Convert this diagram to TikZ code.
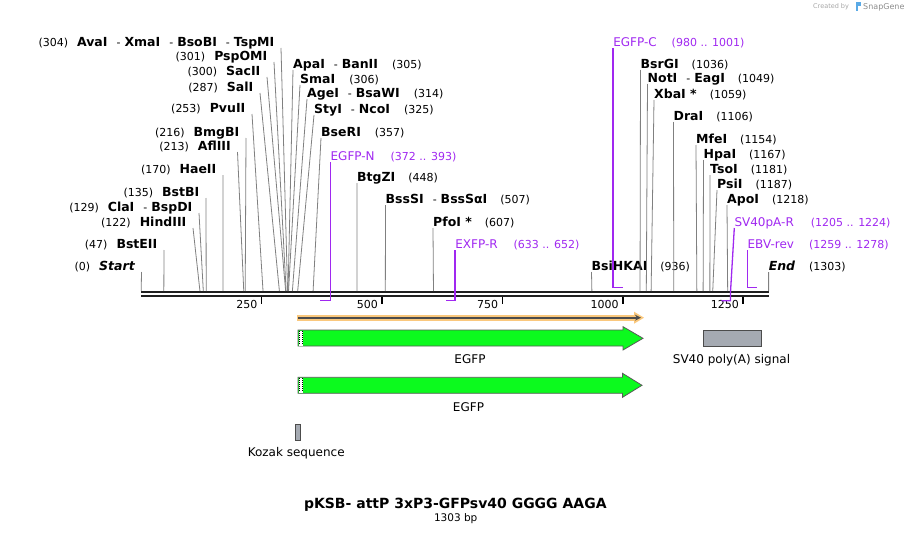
\documentclass[tikz,border=0pt]{standalone}
\usepackage{fontspec}
\setmainfont{DejaVu Sans}
\usetikzlibrary{arrows.meta}
\definecolor{primerpurple}{RGB}{160,40,240}
\definecolor{egfpgreen}{RGB}{12,250,30}
\definecolor{polyagray}{RGB}{165,170,178}
\definecolor{bandorange}{RGB}{250,200,125}
\definecolor{logoblue}{RGB}{90,170,230}
\newcommand{\bp}[1]{141.2+0.4815*#1}
\newcommand{\ename}[1]{{\fontsize{12.5}{14}\selectfont\bfseries #1}}
\newcommand{\epos}[1]{{\fontsize{11}{13}\selectfont(#1)}}
\newcommand{\esep}{\hspace{9pt}-\hspace{4pt}}
\newcommand{\ppos}[1]{{\fontsize{11}{13}\selectfont(#1)}}

\begin{document}
\begin{tikzpicture}[x=1pt,y=-1pt,
    every node/.style={inner sep=0pt},
    enzL/.style={anchor=south east, inner xsep=6.5pt, text depth=1.5pt, font=\fontsize{11}{13}\selectfont},
    enzR/.style={anchor=south west, text depth=1.5pt, font=\fontsize{11}{13}\selectfont},
    site/.style={draw=gray, line width=0.8pt},
    primer/.style={draw=primerpurple, line width=1.3pt},
    plabel/.style={anchor=south west, text depth=1.5pt, text=primerpurple, font=\fontsize{12}{14}\selectfont},
    flabel/.style={font=\fontsize{12}{14}\selectfont}]
    \useasboundingbox (0,0) rectangle (911,535);

    % sites on the map
    \foreach \s in {0,47,122,129,135,170,213,216,253,287,300,301,304,305,306,314,325,357,448,507,607,936,1036,1049,1059,1106,1154,1167,1181,1187,1218,1303}
        \coordinate (s\s) at ({\bp{\s}},291);

    % sequence line and ruler
    \draw[line width=2pt, black!88] (141.2,292.3) -- (768.6,292.3);
    \draw[line width=2pt, black!88] (141.2,295.7) -- (768.6,295.7);
    \foreach \t in {250,500,750,1000,1250} {
        \draw[line width=1.6pt] ({\bp{\t}},297) -- ({\bp{\t}},304);
        \node[anchor=east, font=\fontsize{11}{13}\selectfont] (tick\t) at ({\bp{\t}-4},304) {\t};
    }

    % enzymes, labels on the left
    \node[enzL] (start) at (141.5,272) {(0)\hspace{9pt}\ename{\itshape Start}};
    \node[enzL] (bsteii) at (164,250) {\epos{47}\hspace{9pt}\ename{BstEII}};
    \node[enzL] (hindiii) at (193,228) {\epos{122}\hspace{9pt}\ename{HindIII}};
    \node[enzL] (clai) at (199,213) {\epos{129}\hspace{9pt}\ename{ClaI}\esep\ename{BspDI}};
    \node[enzL] (bstbi) at (206,198) {\epos{135}\hspace{9pt}\ename{BstBI}};
    \node[enzL] (haeii) at (223,175) {\epos{170}\hspace{9pt}\ename{HaeII}};
    \node[enzL] (afliii) at (237.5,152) {\epos{213}\hspace{9pt}\ename{AflIII}};
    \node[enzL] (bmgbi) at (246,138) {\epos{216}\hspace{9pt}\ename{BmgBI}};
    \node[enzL] (pvuii) at (252,114) {\epos{253}\hspace{9pt}\ename{PvuII}};
    \node[enzL] (sali) at (260,93) {\epos{287}\hspace{9pt}\ename{SalI}};
    \node[enzL] (sacii) at (267,77) {\epos{300}\hspace{9pt}\ename{SacII}};
    \node[enzL] (pspomi) at (274,62) {\epos{301}\hspace{9pt}\ename{PspOMI}};
    \node[enzL] (avai) at (281,48) {\epos{304}\hspace{9pt}\ename{AvaI}\esep\ename{XmaI}\esep\ename{BsoBI}\esep\ename{TspMI}};

    \draw[site] (start.south east) -- (s0);
    \draw[site] (bsteii.south east) -- (s47);
    \draw[site] (hindiii.south east) -- (s122);
    \draw[site] (clai.south east) -- (s129);
    \draw[site] (bstbi.south east) -- (s135);
    \draw[site] (haeii.south east) -- (s170);
    \draw[site] (afliii.south east) -- (s213);
    \draw[site] (bmgbi.south east) -- (s216);
    \draw[site] (pvuii.south east) -- (s253);
    \draw[site] (sali.south east) -- (s287);
    \draw[site] (sacii.south east) -- (s300);
    \draw[site] (pspomi.south east) -- (s301);
    \draw[site] (avai.south east) -- (s304);

    % enzymes, labels on the right
    \node[enzR] (apai) at (293,70) {\ename{ApaI}\esep\ename{BanII}\hspace{14pt}\epos{305}};
    \node[enzR] (smai) at (300,85) {\ename{SmaI}\hspace{14pt}\epos{306}};
    \node[enzR] (agei) at (307,99) {\ename{AgeI}\esep\ename{BsaWI}\hspace{14pt}\epos{314}};
    \node[enzR] (styi) at (314,115) {\ename{StyI}\esep\ename{NcoI}\hspace{14pt}\epos{325}};
    \node[enzR] (bseri) at (321,138) {\ename{BseRI}\hspace{14pt}\epos{357}};
    \node[enzR] (btgzi) at (357,183) {\ename{BtgZI}\hspace{13pt}\epos{448}};
    \node[enzR] (bsssi) at (385.5,205) {\ename{BssSI}\esep\ename{BssSαI}\hspace{13pt}\epos{507}};
    \node[enzR] (pfoi) at (433,228) {\ename{PfoI *}\hspace{13pt}\epos{607}};
    \node[enzR] (bsihkai) at (591.5,272) {\ename{BsiHKAI}\hspace{13pt}\epos{936}};
    \node[enzR] (bsrgi) at (640.5,70) {\ename{BsrGI}\hspace{13pt}\epos{1036}};
    \node[enzR] (noti) at (647.5,84) {\ename{NotI}\esep\ename{EagI}\hspace{13pt}\epos{1049}};
    \node[enzR] (xbai) at (654,100) {\ename{XbaI *}\hspace{13pt}\epos{1059}};
    \node[enzR] (drai) at (673.5,122) {\ename{DraI}\hspace{13pt}\epos{1106}};
    \node[enzR] (mfei) at (696,145) {\ename{MfeI}\hspace{13pt}\epos{1154}};
    \node[enzR] (hpai) at (703.5,160) {\ename{HpaI}\hspace{13pt}\epos{1167}};
    \node[enzR] (tsoi) at (710,175) {\ename{TsoI}\hspace{13pt}\epos{1181}};
    \node[enzR] (psii) at (717,190) {\ename{PsiI}\hspace{13pt}\epos{1187}};
    \node[enzR] (apoi) at (727,205) {\ename{ApoI}\hspace{13pt}\epos{1218}};
    \node[enzR] (seqend) at (768.6,272) {\ename{\itshape End}\hspace{14pt}\epos{1303}};

    \draw[site] (apai.south west) -- (s305);
    \draw[site] (smai.south west) -- (s306);
    \draw[site] (agei.south west) -- (s314);
    \draw[site] (styi.south west) -- (s325);
    \draw[site] (bseri.south west) -- (s357);
    \draw[site] (btgzi.south west) -- (s448);
    \draw[site] (bsssi.south west) -- (s507);
    \draw[site] (pfoi.south west) -- (s607);
    \draw[site] (bsihkai.south west) -- (s936);
    \draw[site] (bsrgi.south west) -- (s1036);
    \draw[site] (noti.south west) -- (s1049);
    \draw[site] (xbai.south west) -- (s1059);
    \draw[site] (drai.south west) -- (s1106);
    \draw[site] (mfei.south west) -- (s1154);
    \draw[site] (hpai.south west) -- (s1167);
    \draw[site] (tsoi.south west) -- (s1181);
    \draw[site] (psii.south west) -- (s1187);
    \draw[site] (apoi.south west) -- (s1218);
    \draw[site] (seqend.south west) -- (s1303);

    % primers
    \coordinate (n372) at ({\bp{372}},300.7);
    \coordinate (n393) at ({\bp{393}},300.7);
    \coordinate (r633) at ({\bp{633}},300.7);
    \coordinate (r652) at ({\bp{652}},300.7);
    \coordinate (c980) at ({\bp{980}},287.3);
    \coordinate (c1001) at ({\bp{1001}},287.3);
    \coordinate (a1205) at ({\bp{1205}},300.7);
    \coordinate (a1224) at ({\bp{1224}},300.7);
    \coordinate (b1259) at ({\bp{1259}},287.3);
    \coordinate (b1278) at ({\bp{1278}},287.3);

    \node[plabel] (egfpn) at ({\bp{393}},162) {EGFP-N\hspace{16pt}\ppos{372 .. 393}};
    \node[plabel] (exfpr) at ({\bp{652}},250) {EXFP-R\hspace{16pt}\ppos{633 .. 652}};
    \node[plabel] (egfpc) at ({\bp{980}},48) {EGFP-C\hspace{15pt}\ppos{980 .. 1001}};
    \node[plabel] (sv40r) at (734.3,228) {SV40pA-R\hspace{17pt}\ppos{1205 .. 1224}};
    \node[plabel] (ebvrev) at ({\bp{1259}},250) {EBV-rev\hspace{15pt}\ppos{1259 .. 1278}};

    \draw[primer] (egfpn.south west) -- (n393) -- (n372);
    \draw[primer] (exfpr.south west) -- (r652) -- (r633);
    \draw[primer] (egfpc.south west) -- (c980) -- (c1001);
    \draw[primer] (sv40r.south west) -- ({\bp{1224}},291) -- (a1224) -- (a1205);
    \draw[primer] (ebvrev.south west) -- (b1259) -- (b1278);

    % features
    \draw[line width=6pt, bandorange] (297,317.7) -- (636,317.7);
    \fill[bandorange] (634,311.7) -- (644,317.7) -- (634,323.7) -- cycle;
    \draw[line width=1.6pt, black!70, -{Stealth[length=6pt,width=6pt]}] (298,317.7) -- (641,317.7);

    \draw[fill=egfpgreen, draw=black!65, line width=0.8pt] (298,330) -- (623,330) -- (623,326.7)
        -- (643,338.3) -- (623,350) -- (623,346) -- (298,346) -- cycle;
    \fill[white] (299,330.5) rectangle (302.5,345.5);
    \draw[line width=0.7pt, dash pattern=on 1pt off 1pt] (299.6,331) -- (299.6,345) (301.9,331) -- (301.9,345);
    \node[flabel] (egfpa) at (470,359.5) {EGFP};

    \draw[fill=polyagray, draw=black!70, line width=0.8pt] (703.3,330) rectangle (761.7,346);
    \node[flabel] (polya) at (731.5,360) {SV40 poly(A) signal};

    \draw[fill=egfpgreen, draw=black!65, line width=0.8pt] (298,377.3) -- (622.5,377.3) -- (622.5,373.3)
        -- (642,385.3) -- (622.5,397.3) -- (622.5,393.3) -- (298,393.3) -- cycle;
    \fill[white] (299,377.8) rectangle (302.5,392.8);
    \draw[line width=0.7pt, dash pattern=on 1pt off 1pt] (299.6,378.3) -- (299.6,392.3) (301.9,378.3) -- (301.9,392.3);
    \node[flabel] (egfpb) at (468.5,406.7) {EGFP};

    \draw[fill=polyagray, draw=black!70, line width=0.8pt] (295.3,424) rectangle (300.7,440.7);
    \node[flabel] (kozak) at (296.2,453.3) {Kozak sequence};

    % title
    \node[font=\fontsize{14}{16}\selectfont\bfseries] (title) at (455.3,504.3) {pKSB- attP 3xP3-GFPsv40 GGGG AAGA};
    \node[font=\fontsize{10.5}{12}\selectfont] (size) at (455.7,519) {1303 bp};

    % credit
    \node[anchor=west, text=black!35, font=\fontsize{6.5}{8}\selectfont] (credit) at (813,7) {Created by};
    \fill[logoblue] (855.5,2.5) rectangle (857.5,11.5);
    \fill[logoblue] (857.5,2.5) rectangle (860.5,6.5);
    \node[anchor=west, text=black!45, font=\fontsize{8}{9}\selectfont] (snapgene) at (863,7) {SnapGene};
\end{tikzpicture}
\end{document}
